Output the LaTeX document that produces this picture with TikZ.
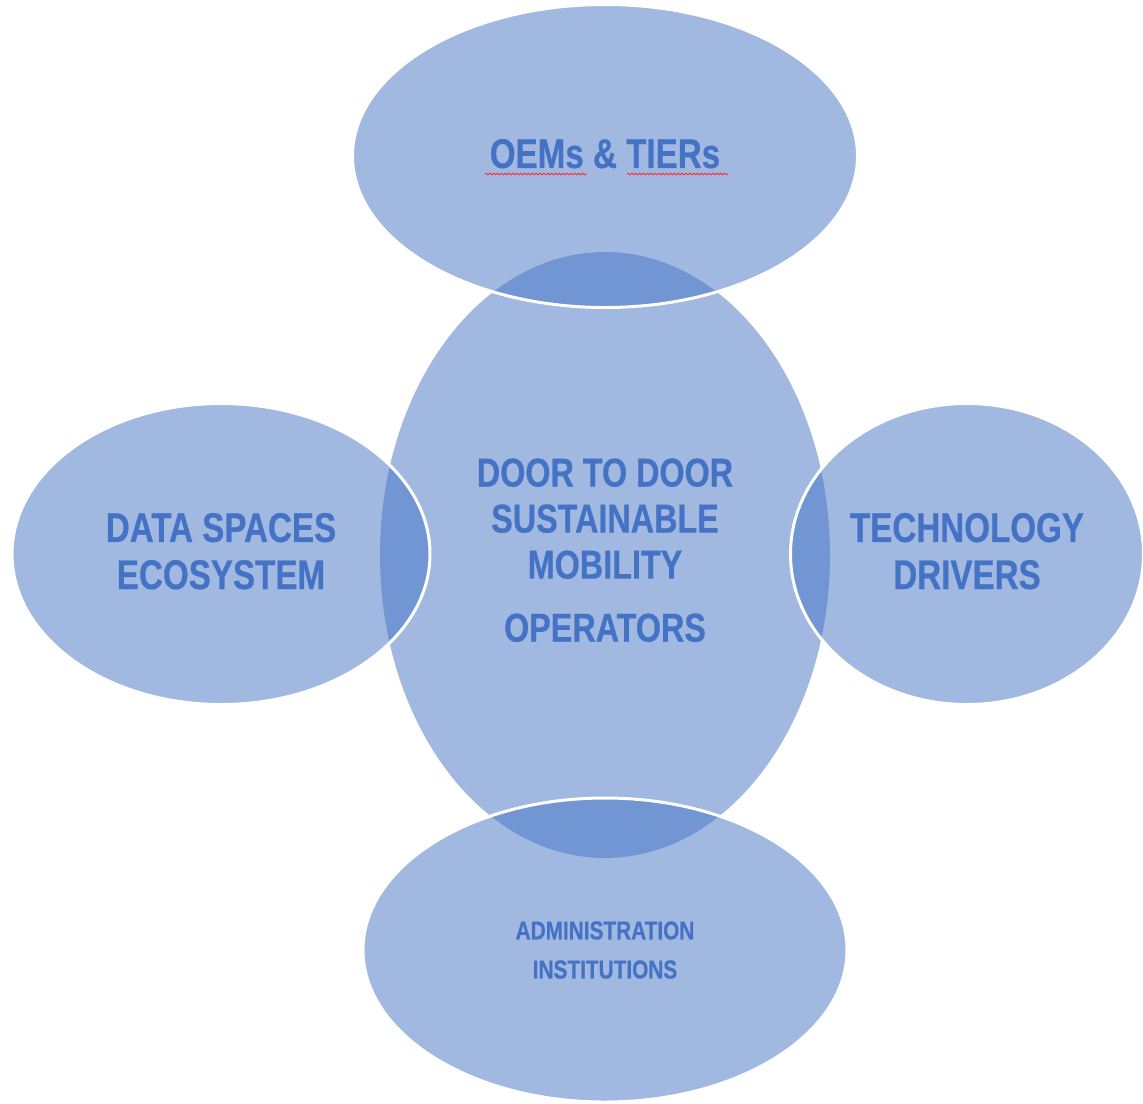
\documentclass[tikz,border=0pt]{standalone}
\usepackage{fontspec}
\newfontfamily\ovalfont{Liberation Sans}[FakeStretch=0.8, BoldFeatures={FakeBold=0.5}]
\usetikzlibrary{shapes.geometric,decorations.pathmorphing}
\definecolor{ovalblue}{HTML}{4472C4}
\tikzset{
  oval/.style={ellipse, inner sep=0pt, fill=ovalblue, fill opacity=0.5, text opacity=1,
    text=ovalblue, align=center, font=\ovalfont\bfseries\fontsize{23.6}{26.8}\selectfont},
  rimmed/.style={oval, draw=white, line width=1.7pt},
  spell/.style={draw=red!85, line width=0.45pt, decorate,
    decoration={zigzag, amplitude=0.5pt, segment length=2.2pt}}
}
\begin{document}
\begin{tikzpicture}[x=0.02cm, y=-0.02cm]
\useasboundingbox (0,0) rectangle (1143,1103);
% centre first, the others lie on top of it
\node[oval, minimum width=450*0.02cm, minimum height=606*0.02cm, text depth=0.2cm,
  font=\ovalfont\bfseries\fontsize{23}{26.2}\selectfont] (hub) at (605,555)
  {DOOR TO DOOR\\SUSTAINABLE\\MOBILITY\\[0.34cm]OPERATORS};
\node[rimmed, minimum width=505*0.02cm, minimum height=303*0.02cm, text depth=0.1cm]
  (oems) at (605,156) {OEMs \& TIERs};
\node[rimmed, minimum width=418*0.02cm, minimum height=301*0.02cm, text depth=0.12cm]
  (data) at (221,554) {DATA SPACES\\ECOSYSTEM};
\node[rimmed, minimum width=353*0.02cm, minimum height=301*0.02cm, text depth=0.12cm]
  (tech) at (967,554) {TECHNOLOGY\\DRIVERS};
\node[rimmed, minimum width=484*0.02cm, minimum height=304*0.02cm,
  font=\ovalfont\bfseries\fontsize{14.8}{22.2}\selectfont] (admin) at (605,950)
  {ADMINISTRATION\\INSTITUTIONS};
% spelling marks under the top label
\draw[spell] (485,174) -- (587,174);
\draw[spell] (627,174) -- (728,174);
\end{tikzpicture}
\end{document}
